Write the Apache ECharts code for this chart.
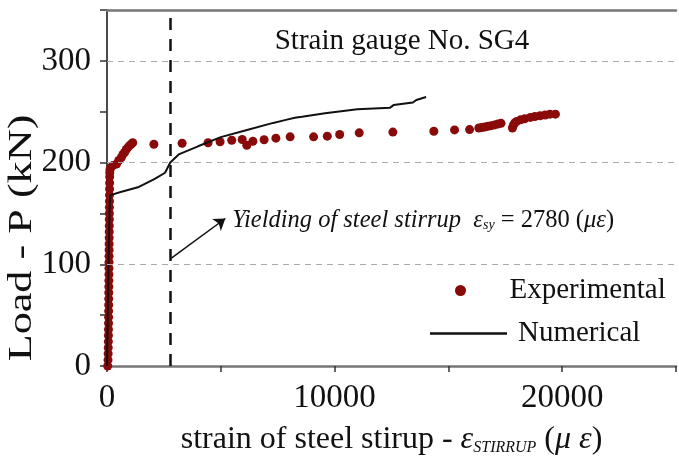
<!DOCTYPE html>
<html>
<head>
<meta charset="utf-8">
<script src="https://cdn.jsdelivr.net/npm/echarts@6/dist/echarts.min.js"></script>
<style>
  html, body { margin: 0; padding: 0; background: #fff; }
  #chart { width: 679px; height: 461px; }
</style>
</head>
<body>
<div id="chart"></div>
<script>
// Measured stirrup strain (microstrain) and applied load (kN), gauge SG4
const expStrain = [30, 45, 50, 55, 60, 62, 65, 68, 70, 72, 74, 76, 78, 80, 82, 84, 86, 88, 90, 92,
  94, 96, 98, 100, 102, 104, 106, 108, 110, 112, 115, 118, 122, 130,
  159, 258, 417, 515, 631, 700, 773, 846, 915, 988, 1061, 1130,
  2060, 3300, 4440, 4968, 5480, 5940, 6143, 6410, 6903, 7420, 8046, 9077, 9678, 10223, 11082,
  12560, 14360, 15270, 15930, 16336, 16460, 16594, 16740, 16881, 17030, 17169, 17311,
  17813, 17850, 17912, 18000, 18170, 18350, 18600, 18800, 19029, 19250, 19459, 19703];
const expLoad = [0, 6, 12, 18, 24, 30, 36, 42, 48, 54, 60, 66, 72, 78, 84, 90, 96, 102, 108, 114,
  120, 126, 132, 138, 144, 150, 156, 162, 168, 174, 180, 186, 190, 193,
  195, 197, 198.5, 202, 205, 208, 210, 212.8, 214.7, 216.6, 218, 219.5,
  218, 219, 219.5, 220.5, 222, 222.7, 217, 221, 222.4, 224, 225.3, 225.3, 226, 227.6, 229.2,
  230, 230.8, 232.1, 232.4, 234, 234.5, 235, 235.7, 236.3, 237, 237.9, 238.6,
  234, 236.5, 238.9, 240.5, 242, 243, 244.4, 245.3, 246, 246.8, 247.6, 247.6];

// Finite element prediction
const numStrain = [0, 40, 80, 120, 150, 600, 1400, 2100, 2550, 2780, 3150, 4000, 5000, 6150, 7300,
  7860, 8250, 8570, 9580, 11000, 12440, 12590, 13440, 13590, 14020];
const numLoad = [0, 60, 120, 160, 168, 171, 176, 184, 190, 200, 208, 216, 225, 232, 239,
  242, 244, 245, 248.5, 252.5, 254, 256.5, 259, 261.5, 264.5];

// Yield strain of the stirrup steel
const yieldStrain = 2780;

// Axis ranges, tick labels and dashed reference loads
const xMin = 0, xMax = 25000, xStep = 5000;
const yMin = 0, yMax = 350, yStep = 50;
const xLabels = ['0', '10000', '20000'];
const yLabels = ['0', '100', '200', '300'];
const gridLoads = [100, 200, 300];

// Arrow pointing at the yield line and where its caption starts (data units)
const arrowFrom = [2830, 106];
const arrowTo = [5200, 145];
const captionAt = [5500, 143];

const FONT = '"Liberation Serif", "Times New Roman", serif';
const RED = '#8a0a0a';

const chart = echarts.init(document.getElementById('chart'), null, { renderer: 'canvas' });

const pair = (xs, ys) => xs.map((x, i) => [x, ys[i]]);

const option = {
  backgroundColor: '#ffffff',
  animation: false,
  textStyle: { fontFamily: FONT },
  title: {
    text: 'Strain gauge No. SG4',
    left: 397, top: 22, textAlign: 'center',
    textStyle: { fontFamily: FONT, fontSize: 29, fontWeight: 'normal', color: '#111' }
  },
  grid: { left: 107, top: 10, width: 582, height: 362 },
  legend: [
    {
      data: [{ name: 'Experimental', icon: 'circle' }],
      left: 450, top: 271,
      itemWidth: 88, itemHeight: 11,
      textStyle: { fontFamily: FONT, fontSize: 29, color: '#111' }
    },
    {
      // line sample followed by a short blank before the label
      data: [{ name: 'Numerical', icon: 'path://M0,0 L77,0 L77,2.5 L0,2.5 Z M83,0 L83,0.01 L82.99,0 Z' }],
      left: 425, top: 314,
      itemWidth: 83, itemHeight: 2.5,
      textStyle: { fontFamily: FONT, fontSize: 29, color: '#111' }
    }
  ],
  xAxis: [
    {
      type: 'value', min: xMin, max: xMax, interval: xStep,
      axisLine: { lineStyle: { color: '#777', width: 2.5 } },
      axisTick: { show: true, length: 6, lineStyle: { color: '#333', width: 1.5 } },
      axisLabel: {
        fontFamily: FONT, fontSize: 33, color: '#111', margin: 16,
        formatter: v => (xLabels.indexOf(String(v)) >= 0 ? String(v) : '')
      },
      splitLine: { show: false },
      name: '{t|strain of steel stirup - }{e|ε}{s|STIRRUP}{t| (}{e|μ ε}{t|)}',
      nameLocation: 'middle', nameGap: 58,
      nameTextStyle: {
        rich: {
          t: { fontFamily: FONT, fontSize: 32, color: '#111' },
          e: { fontFamily: FONT, fontSize: 32, fontStyle: 'italic', color: '#111' },
          s: { fontFamily: FONT, fontSize: 16, fontStyle: 'italic', color: '#111', padding: [15, 0, 0, 0] }
        }
      }
    },
    {
      type: 'value', position: 'top', min: xMin, max: xMax, z: 5,
      axisLine: { show: true, lineStyle: { color: '#777', width: 2.5 } },
      axisTick: { show: false }, axisLabel: { show: false }, splitLine: { show: false }
    }
  ],
  yAxis: [
    {
      type: 'value', min: yMin, max: yMax, interval: yStep,
      axisLine: { show: true, lineStyle: { color: '#111', width: 1.5 } },
      axisTick: { show: true, length: 7, lineStyle: { color: '#333', width: 1.5 } },
      axisLabel: {
        fontFamily: FONT, fontSize: 33, color: '#111', margin: 16,
        formatter: v => (yLabels.indexOf(String(v)) >= 0 ? String(v) : '')
      },
      splitLine: { show: false }
    }
  ],
  series: [
    {
      // dashed horizontal reference lines at round loads
      name: 'gridlines', type: 'line', data: [], z: 1,
      markLine: {
        silent: true, animation: false, symbol: ['none', 'none'],
        label: { show: false },
        lineStyle: { color: '#aaa', width: 1.2, type: [6, 5] },
        data: gridLoads.map(v => ({ yAxis: v }))
      }
    },
    {
      name: 'Experimental', type: 'scatter',
      data: pair(expStrain, expLoad),
      symbol: 'circle', symbolSize: 9,
      itemStyle: { color: RED, opacity: 1 },
      z: 3,
      markLine: {
        silent: true, animation: false,
        symbol: ['none', 'arrow'], symbolSize: 11,
        label: { show: false },
        lineStyle: { color: '#111', width: 1.5, type: 'solid' },
        data: [[{ coord: arrowFrom }, { coord: arrowTo }]]
      }
    },
    {
      name: 'Numerical', type: 'line',
      data: pair(numStrain, numLoad),
      showSymbol: false, symbol: 'none',
      lineStyle: { color: '#111', width: 2 },
      itemStyle: { color: '#111' },
      z: 4,
      markLine: {
        silent: true, animation: false,
        symbol: ['none', 'none'],
        label: { show: false },
        lineStyle: { color: '#111', width: 2.5, type: [12, 9] },
        data: [{ xAxis: yieldStrain }]
      }
    }
  ]
};

chart.setOption(option);

// Caption for the yield line, anchored in data coordinates, and the load axis title
const cap = chart.convertToPixel({ xAxisIndex: 0, yAxisIndex: 0 }, captionAt);
chart.setOption({
  graphic: [
    {
      type: 'text', x: cap[0], y: cap[1], z: 10,
      style: {
        text: '{i|Yielding of steel stirrup}{g|  }{i|ε}{s|sy}{n| = 2780 (}{i|με}{n|)}',
        verticalAlign: 'middle',
        rich: {
          i: { fontFamily: FONT, fontSize: 24.5, fontStyle: 'italic', fill: '#111' },
          g: { fontFamily: FONT, fontSize: 24.5, fill: '#111' },
          s: { fontFamily: FONT, fontSize: 14, fontStyle: 'italic', fill: '#111', padding: [10, 0, 0, 0] },
          n: { fontFamily: FONT, fontSize: 24.5, fill: '#111' }
        }
      }
    },
    {
      type: 'text', x: 22, y: 238, rotation: Math.PI / 2, scaleX: 1.3, z: 10,
      style: {
        text: 'Load - P (kN)',
        fontFamily: FONT, fontSize: 34, fill: '#111',
        align: 'center', verticalAlign: 'middle'
      }
    }
  ]
});
</script>
</body>
</html>
